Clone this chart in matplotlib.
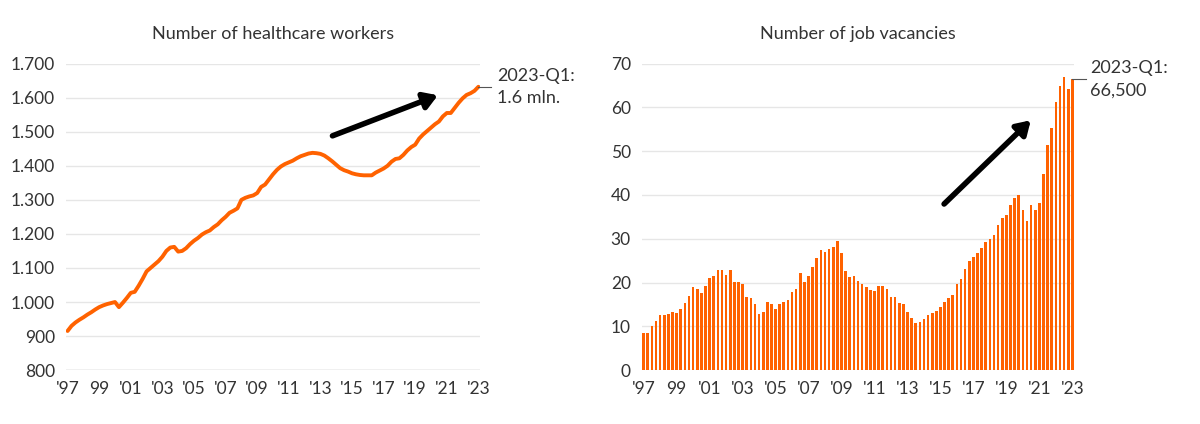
import matplotlib
matplotlib.use("Agg")
import matplotlib.pyplot as plt
import numpy as np

# ── data (quarterly, 1997-Q1 .. 2023-Q1) ─────────────────────────
workers = [
    915, 930, 940, 948,   955, 963, 970, 978,   985, 990, 994, 997,
    1000, 985, 998, 1012, 1027, 1030, 1048, 1068, 1090, 1100, 1110, 1120,
    1133, 1150, 1160, 1162, 1148, 1150, 1158, 1170, 1180, 1188, 1198, 1205,
    1210, 1220, 1228, 1240, 1250, 1262, 1268, 1275, 1300, 1306, 1310, 1313,
    1320, 1338, 1345, 1360, 1375, 1388, 1398, 1405, 1410, 1415, 1422, 1428,
    1432, 1436, 1438, 1437, 1435, 1430, 1422, 1413, 1403, 1393, 1387, 1383,
    1378, 1375, 1373, 1372, 1372, 1372, 1380, 1386, 1392, 1400, 1412, 1420,
    1422, 1432, 1445, 1455, 1462, 1480, 1492, 1502, 1512, 1522, 1530, 1545,
    1555, 1555, 1570, 1585, 1598, 1608, 1613, 1620, 1632,
]
vacancies = [
    8.5, 8.5, 10, 11.3, 12.5, 12.7, 12.9, 13.3, 13.1, 13.9, 15.4,
    16.9, 19.1, 18.6, 17.6, 19.2, 21, 21.6, 22.8, 22.9, 21.8,
    22.8, 20.1, 20.2, 19.7, 16.8, 16.5, 15, 12.8, 13.3, 15.5,
    15, 14, 15.1, 15.5, 16, 17.8, 18.6, 22.1, 20.2, 21.6,
    23.6, 25.7, 27.5, 27, 27.7, 28.1, 29.6, 26.8, 22.6, 21.3,
    21.6, 20.4, 19.7, 18.9, 18.3, 18.1, 19.2, 19.2, 18.5, 16.7,
    16.6, 15.3, 15, 13.3, 11.9, 10.8, 10.9, 11.6, 12.5, 13.1,
    13.5, 14.5, 15.6, 16.5, 17.1, 19.7, 20.9, 23.2, 25, 25.8,
    26.8, 28, 29.3, 29.9, 30.8, 33.2, 34.7, 35.4, 37.6, 39.2,
    40.1, 36.5, 34.1, 37.7, 36.6, 38.2, 44.9, 51.3, 55.3, 61.2,
    64.9, 66.9, 64.2, 66.5,
]
tick_years = list(range(1997, 2024, 2))
tick_labels = ["'97", "99", "'01", "'03", "'05", "'07", "'09", "'11",
               "'13", "'15", "'17", "'19", "'21", "'23"]

ORANGE = "#FF6200"
DARK = "#333333"
GRID = "#E6E6E6"
plt.rcParams["font.family"] = ["Lato", "DejaVu Sans"]

t = 1997 + np.arange(len(workers)) / 4

fig = plt.figure(figsize=(12, 4.24), dpi=100)
ax1 = fig.add_axes([0.055, 0.127, 0.345, 0.723])
ax2 = fig.add_axes([0.535, 0.127, 0.36, 0.723])

for ax in (ax1, ax2):
    for s in ax.spines.values():
        s.set_visible(False)
    ax.grid(axis="y", color=GRID, lw=1)
    ax.set_axisbelow(True)
    ax.tick_params(length=0, labelsize=12.5, colors=DARK, pad=8)
    ax.set_xticks(tick_years)
    ax.set_xticklabels(tick_labels)
    ax.set_xlim(1996.9, 2023.1)

# left: healthcare workers
ax1.plot(t, workers, color=ORANGE, lw=2.8, solid_capstyle="round")
ax1.set_ylim(800, 1700)
ax1.set_yticks(range(800, 1701, 100))
ax1.set_yticklabels([f"{v:,}".replace(",", ".") for v in range(800, 1701, 100)])
ax1.axhline(800, color="#CCCCCC", lw=1)
ax1.set_title("Number of healthcare workers", fontsize=13, color=DARK, pad=18)
ax1.plot([t[-1], t[-1] + 0.8], [workers[-1]] * 2, color="#555555", lw=0.8, clip_on=False)
ax1.text(t[-1] + 1.2, workers[-1], "2023-Q1:\n1.6 mln.", fontsize=13, color=DARK,
         va="center", ha="left", linespacing=1.5)

# right: job vacancies
tv = 1997 + np.arange(len(vacancies)) / 4
ax2.bar(tv, vacancies, width=0.16, color=ORANGE)
ax2.set_ylim(0, 70)
ax2.set_yticks(range(0, 71, 10))
ax2.set_title("Number of job vacancies", fontsize=13, color=DARK, pad=18)
ax2.plot([tv[-1], tv[-1] + 0.8], [vacancies[-1]] * 2, color="#555555", lw=0.8, clip_on=False)
ax2.text(tv[-1] + 1.1, vacancies[-1], "2023-Q1:\n66,500", fontsize=13, color=DARK,
         va="center", ha="left", linespacing=1.5)

# trend arrows
aprops = dict(arrowstyle="-|>,head_width=0.5,head_length=0.8", color="black", lw=4)
ax1.annotate("", xy=(2020.6, 1610), xytext=(2013.6, 1485), arrowprops=aprops)
ax2.annotate("", xy=(2020.6, 57.5), xytext=(2015.1, 37.5), arrowprops=aprops)

fig.savefig("out.png", dpi=100, facecolor="white")
